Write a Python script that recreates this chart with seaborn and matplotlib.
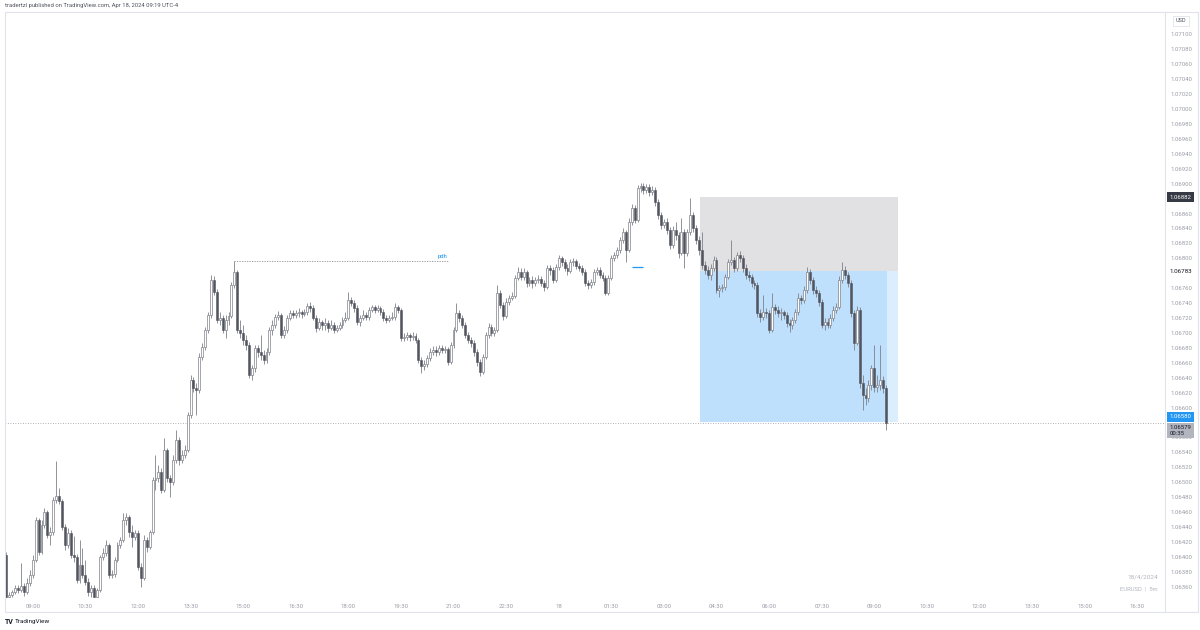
import matplotlib
matplotlib.use("Agg")
import matplotlib.pyplot as plt
import matplotlib.transforms as mtransforms
from matplotlib.lines import Line2D
from matplotlib.patches import Rectangle
import numpy as np
import pandas as pd
import seaborn as sns

# ---------------- data (EURUSD 5m) ----------------
start_time = "2024-04-17 08:15"

closes = [
    1.06346, 1.06349, 1.06353, 1.06358, 1.06356, 1.06361, 1.06353, 1.06365, 1.06376, 1.06396,
    1.06449, 1.06406, 1.06443, 1.06460, 1.06429, 1.06433, 1.06476, 1.06482, 1.06475, 1.06440,
    1.06416, 1.06432, 1.06402, 1.06400, 1.06369, 1.06389, 1.06376, 1.06366, 1.06353, 1.06358,
    1.06346, 1.06356, 1.06400, 1.06405, 1.06416, 1.06376, 1.06377, 1.06396, 1.06416, 1.06423,
    1.06449, 1.06453, 1.06433, 1.06427, 1.06432, 1.06386, 1.06372, 1.06423, 1.06413, 1.06433,
    1.06503, 1.06506, 1.06514, 1.06490, 1.06543, 1.06506, 1.06500, 1.06530, 1.06557, 1.06530,
    1.06536, 1.06543, 1.06590, 1.06637, 1.06626, 1.06624, 1.06668, 1.06681, 1.06704, 1.06724,
    1.06771, 1.06755, 1.06717, 1.06720, 1.06704, 1.06717, 1.06723, 1.06764, 1.06782, 1.06704,
    1.06700, 1.06691, 1.06684, 1.06644, 1.06653, 1.06680, 1.06674, 1.06670, 1.06664, 1.06674,
    1.06704, 1.06711, 1.06721, 1.06724, 1.06697, 1.06704, 1.06720, 1.06727, 1.06724, 1.06727,
    1.06728, 1.06725, 1.06728, 1.06736, 1.06733, 1.06720, 1.06707, 1.06715, 1.06711, 1.06713,
    1.06707, 1.06711, 1.06704, 1.06707, 1.06711, 1.06717, 1.06720, 1.06744, 1.06740, 1.06733,
    1.06715, 1.06720, 1.06724, 1.06721, 1.06731, 1.06735, 1.06731, 1.06733, 1.06728, 1.06720,
    1.06717, 1.06720, 1.06721, 1.06735, 1.06731, 1.06693, 1.06695, 1.06697, 1.06695, 1.06696,
    1.06691, 1.06664, 1.06656, 1.06658, 1.06666, 1.06674, 1.06677, 1.06674, 1.06680, 1.06677,
    1.06678, 1.06661, 1.06684, 1.06704, 1.06727, 1.06720, 1.06711, 1.06697, 1.06691, 1.06687,
    1.06674, 1.06661, 1.06648, 1.06668, 1.06697, 1.06708, 1.06700, 1.06704, 1.06754, 1.06737,
    1.06723, 1.06741, 1.06747, 1.06750, 1.06774, 1.06782, 1.06775, 1.06782, 1.06767, 1.06771,
    1.06767, 1.06771, 1.06772, 1.06767, 1.06762, 1.06787, 1.06784, 1.06771, 1.06788, 1.06800,
    1.06795, 1.06787, 1.06783, 1.06795, 1.06796, 1.06790, 1.06787, 1.06782, 1.06767, 1.06764,
    1.06768, 1.06782, 1.06784, 1.06778, 1.06774, 1.06754, 1.06774, 1.06800, 1.06804, 1.06811,
    1.06825, 1.06835, 1.06811, 1.06849, 1.06867, 1.06851, 1.06894, 1.06897, 1.06892, 1.06896,
    1.06889, 1.06892, 1.06875, 1.06858, 1.06845, 1.06849, 1.06838, 1.06818, 1.06838, 1.06831,
    1.06807, 1.06835, 1.06807, 1.06835, 1.06858, 1.06841, 1.06825, 1.06811, 1.06791, 1.06784,
    1.06778, 1.06787, 1.06798, 1.06758, 1.06760, 1.06762, 1.06775, 1.06795, 1.06798, 1.06787,
    1.06804, 1.06800, 1.06787, 1.06778, 1.06775, 1.06767, 1.06764, 1.06727, 1.06721, 1.06728,
    1.06727, 1.06704, 1.06735, 1.06731, 1.06727, 1.06728, 1.06724, 1.06713, 1.06711, 1.06717,
    1.06728, 1.06747, 1.06744, 1.06758, 1.06782, 1.06771, 1.06758, 1.06754, 1.06741, 1.06711,
    1.06715, 1.06711, 1.06720, 1.06731, 1.06735, 1.06771, 1.06784, 1.06778, 1.06767, 1.06727,
    1.06687, 1.06731, 1.06633, 1.06617, 1.06613, 1.06630, 1.06653, 1.06628, 1.06630, 1.06637,
    1.06626, 1.06579,
]

opens = [
    1.06402,
    1.06346, 1.06349, 1.06353, 1.06358, 1.06356, 1.06361, 1.06353, 1.06365, 1.06376, 1.06396,
    1.06449, 1.06406, 1.06443, 1.06460, 1.06429, 1.06433, 1.06476, 1.06482, 1.06475, 1.06440,
    1.06416, 1.06432, 1.06402, 1.06400, 1.06369, 1.06389, 1.06376, 1.06366, 1.06353, 1.06358,
    1.06346, 1.06356, 1.06400, 1.06405, 1.06416, 1.06376, 1.06377, 1.06396, 1.06416, 1.06423,
    1.06449, 1.06453, 1.06433, 1.06427, 1.06432, 1.06386, 1.06372, 1.06423, 1.06413, 1.06433,
    1.06503, 1.06506, 1.06514, 1.06490, 1.06543, 1.06506, 1.06500, 1.06530, 1.06557, 1.06530,
    1.06536, 1.06543, 1.06590, 1.06637, 1.06626, 1.06624, 1.06668, 1.06681, 1.06704, 1.06724,
    1.06771, 1.06755, 1.06717, 1.06720, 1.06704, 1.06717, 1.06723, 1.06764, 1.06782, 1.06704,
    1.06700, 1.06691, 1.06684, 1.06644, 1.06653, 1.06680, 1.06674, 1.06670, 1.06664, 1.06674,
    1.06704, 1.06711, 1.06721, 1.06724, 1.06697, 1.06704, 1.06720, 1.06727, 1.06724, 1.06727,
    1.06728, 1.06725, 1.06728, 1.06736, 1.06733, 1.06720, 1.06707, 1.06715, 1.06711, 1.06713,
    1.06707, 1.06711, 1.06704, 1.06707, 1.06711, 1.06717, 1.06720, 1.06744, 1.06740, 1.06733,
    1.06715, 1.06720, 1.06724, 1.06721, 1.06731, 1.06735, 1.06731, 1.06733, 1.06728, 1.06720,
    1.06717, 1.06720, 1.06721, 1.06735, 1.06731, 1.06693, 1.06695, 1.06697, 1.06695, 1.06696,
    1.06691, 1.06664, 1.06656, 1.06658, 1.06666, 1.06674, 1.06677, 1.06674, 1.06680, 1.06677,
    1.06678, 1.06661, 1.06684, 1.06704, 1.06727, 1.06720, 1.06711, 1.06697, 1.06691, 1.06687,
    1.06674, 1.06661, 1.06648, 1.06668, 1.06697, 1.06708, 1.06700, 1.06704, 1.06754, 1.06737,
    1.06723, 1.06741, 1.06747, 1.06750, 1.06774, 1.06782, 1.06775, 1.06782, 1.06767, 1.06771,
    1.06767, 1.06771, 1.06772, 1.06767, 1.06762, 1.06787, 1.06784, 1.06771, 1.06788, 1.06800,
    1.06795, 1.06787, 1.06783, 1.06795, 1.06796, 1.06790, 1.06787, 1.06782, 1.06767, 1.06764,
    1.06768, 1.06782, 1.06784, 1.06778, 1.06774, 1.06754, 1.06774, 1.06800, 1.06804, 1.06811,
    1.06825, 1.06835, 1.06811, 1.06849, 1.06867, 1.06851, 1.06894, 1.06897, 1.06892, 1.06896,
    1.06889, 1.06892, 1.06875, 1.06858, 1.06845, 1.06849, 1.06838, 1.06818, 1.06838, 1.06831,
    1.06807, 1.06835, 1.06807, 1.06835, 1.06858, 1.06841, 1.06825, 1.06811, 1.06791, 1.06784,
    1.06778, 1.06787, 1.06798, 1.06758, 1.06760, 1.06762, 1.06775, 1.06795, 1.06798, 1.06787,
    1.06804, 1.06800, 1.06787, 1.06778, 1.06775, 1.06767, 1.06764, 1.06727, 1.06721, 1.06728,
    1.06727, 1.06704, 1.06735, 1.06731, 1.06727, 1.06728, 1.06724, 1.06713, 1.06711, 1.06717,
    1.06728, 1.06747, 1.06744, 1.06758, 1.06782, 1.06771, 1.06758, 1.06754, 1.06741, 1.06711,
    1.06715, 1.06711, 1.06720, 1.06731, 1.06735, 1.06771, 1.06784, 1.06778, 1.06767, 1.06727,
    1.06687, 1.06731, 1.06633, 1.06617, 1.06613, 1.06630, 1.06653, 1.06628, 1.06630, 1.06637,
    1.06626,
]

highs = [
    1.06406, 1.06353, 1.06356, 1.06362, 1.06362, 1.06392, 1.06365, 1.06372, 1.06382, 1.06402,
    1.06453, 1.06452, 1.06449, 1.06465, 1.06463, 1.06440, 1.06480, 1.06528, 1.06492, 1.06478,
    1.06444, 1.06439, 1.06436, 1.06428, 1.06404, 1.06423, 1.06412, 1.06396, 1.06372, 1.06362,
    1.06362, 1.06358, 1.06402, 1.06412, 1.06423, 1.06419, 1.06382, 1.06400, 1.06420, 1.06427,
    1.06459, 1.06459, 1.06456, 1.06443, 1.06436, 1.06436, 1.06392, 1.06429, 1.06427, 1.06436,
    1.06507, 1.06536, 1.06523, 1.06519, 1.06559, 1.06546, 1.06510, 1.06536, 1.06570, 1.06561,
    1.06543, 1.06550, 1.06594, 1.06644, 1.06641, 1.06633, 1.06673, 1.06687, 1.06708, 1.06728,
    1.06778, 1.06776, 1.06759, 1.06728, 1.06724, 1.06724, 1.06728, 1.06768, 1.06796, 1.06784,
    1.06717, 1.06711, 1.06697, 1.06688, 1.06657, 1.06684, 1.06684, 1.06697, 1.06677, 1.06680,
    1.06708, 1.06717, 1.06725, 1.06729, 1.06727, 1.06709, 1.06724, 1.06731, 1.06731, 1.06731,
    1.06733, 1.06731, 1.06732, 1.06740, 1.06741, 1.06737, 1.06724, 1.06720, 1.06717, 1.06720,
    1.06717, 1.06717, 1.06715, 1.06711, 1.06715, 1.06721, 1.06728, 1.06755, 1.06748, 1.06744,
    1.06737, 1.06724, 1.06731, 1.06728, 1.06735, 1.06737, 1.06737, 1.06737, 1.06736, 1.06732,
    1.06724, 1.06724, 1.06728, 1.06740, 1.06737, 1.06733, 1.06700, 1.06701, 1.06700, 1.06701,
    1.06700, 1.06693, 1.06668, 1.06664, 1.06670, 1.06680, 1.06683, 1.06683, 1.06684, 1.06684,
    1.06683, 1.06681, 1.06688, 1.06708, 1.06740, 1.06731, 1.06724, 1.06715, 1.06701, 1.06695,
    1.06691, 1.06678, 1.06665, 1.06672, 1.06701, 1.06713, 1.06712, 1.06708, 1.06764, 1.06758,
    1.06741, 1.06747, 1.06751, 1.06755, 1.06778, 1.06788, 1.06787, 1.06787, 1.06784, 1.06775,
    1.06776, 1.06775, 1.06778, 1.06776, 1.06771, 1.06791, 1.06791, 1.06788, 1.06792, 1.06804,
    1.06803, 1.06799, 1.06792, 1.06799, 1.06800, 1.06799, 1.06794, 1.06791, 1.06786, 1.06771,
    1.06772, 1.06786, 1.06788, 1.06788, 1.06782, 1.06778, 1.06778, 1.06804, 1.06808, 1.06815,
    1.06829, 1.06841, 1.06838, 1.06854, 1.06873, 1.06871, 1.06898, 1.06901, 1.06901, 1.06900,
    1.06900, 1.06897, 1.06896, 1.06879, 1.06862, 1.06853, 1.06854, 1.06842, 1.06843, 1.06849,
    1.06835, 1.06854, 1.06839, 1.06839, 1.06881, 1.06862, 1.06845, 1.06830, 1.06835, 1.06796,
    1.06790, 1.06792, 1.06803, 1.06802, 1.06764, 1.06766, 1.06779, 1.06799, 1.06825, 1.06802,
    1.06808, 1.06810, 1.06804, 1.06792, 1.06783, 1.06779, 1.06771, 1.06768, 1.06732, 1.06751,
    1.06733, 1.06731, 1.06754, 1.06739, 1.06736, 1.06733, 1.06731, 1.06728, 1.06719, 1.06721,
    1.06732, 1.06754, 1.06751, 1.06763, 1.06788, 1.06786, 1.06775, 1.06763, 1.06758, 1.06746,
    1.06720, 1.06720, 1.06725, 1.06736, 1.06740, 1.06776, 1.06795, 1.06790, 1.06782, 1.06771,
    1.06731, 1.06736, 1.06735, 1.06644, 1.06626, 1.06637, 1.06657, 1.06684, 1.06644, 1.06684,
    1.06642, 1.06630,
]

lows = [
    1.06345, 1.06344, 1.06346, 1.06350, 1.06352, 1.06353, 1.06348, 1.06350, 1.06361, 1.06372,
    1.06393, 1.06402, 1.06404, 1.06439, 1.06425, 1.06416, 1.06429, 1.06472, 1.06471, 1.06436,
    1.06409, 1.06412, 1.06398, 1.06393, 1.06365, 1.06365, 1.06372, 1.06362, 1.06348, 1.06346,
    1.06344, 1.06342, 1.06353, 1.06396, 1.06401, 1.06372, 1.06372, 1.06373, 1.06393, 1.06412,
    1.06420, 1.06443, 1.06427, 1.06413, 1.06423, 1.06382, 1.06360, 1.06369, 1.06406, 1.06410,
    1.06431, 1.06490, 1.06500, 1.06486, 1.06487, 1.06500, 1.06480, 1.06496, 1.06526, 1.06523,
    1.06526, 1.06532, 1.06541, 1.06586, 1.06621, 1.06590, 1.06620, 1.06664, 1.06677, 1.06700,
    1.06720, 1.06751, 1.06713, 1.06711, 1.06700, 1.06693, 1.06711, 1.06720, 1.06760, 1.06700,
    1.06693, 1.06684, 1.06677, 1.06640, 1.06637, 1.06648, 1.06668, 1.06664, 1.06658, 1.06660,
    1.06670, 1.06697, 1.06707, 1.06717, 1.06693, 1.06693, 1.06700, 1.06717, 1.06720, 1.06720,
    1.06721, 1.06720, 1.06723, 1.06724, 1.06728, 1.06717, 1.06701, 1.06704, 1.06704, 1.06704,
    1.06701, 1.06704, 1.06700, 1.06701, 1.06704, 1.06707, 1.06715, 1.06717, 1.06736, 1.06728,
    1.06711, 1.06709, 1.06717, 1.06717, 1.06717, 1.06728, 1.06727, 1.06728, 1.06724, 1.06716,
    1.06713, 1.06715, 1.06717, 1.06717, 1.06727, 1.06689, 1.06689, 1.06691, 1.06689, 1.06691,
    1.06687, 1.06660, 1.06646, 1.06650, 1.06654, 1.06662, 1.06670, 1.06669, 1.06670, 1.06673,
    1.06673, 1.06657, 1.06658, 1.06680, 1.06701, 1.06715, 1.06707, 1.06693, 1.06687, 1.06681,
    1.06669, 1.06656, 1.06642, 1.06645, 1.06665, 1.06693, 1.06696, 1.06696, 1.06701, 1.06733,
    1.06717, 1.06720, 1.06737, 1.06744, 1.06747, 1.06771, 1.06771, 1.06771, 1.06762, 1.06763,
    1.06760, 1.06763, 1.06767, 1.06763, 1.06756, 1.06759, 1.06778, 1.06767, 1.06768, 1.06784,
    1.06790, 1.06783, 1.06778, 1.06780, 1.06790, 1.06786, 1.06783, 1.06778, 1.06763, 1.06759,
    1.06760, 1.06764, 1.06778, 1.06774, 1.06770, 1.06751, 1.06751, 1.06771, 1.06796, 1.06800,
    1.06807, 1.06821, 1.06795, 1.06808, 1.06845, 1.06847, 1.06849, 1.06889, 1.06886, 1.06888,
    1.06884, 1.06885, 1.06870, 1.06853, 1.06839, 1.06841, 1.06833, 1.06812, 1.06814, 1.06825,
    1.06800, 1.06804, 1.06787, 1.06803, 1.06831, 1.06835, 1.06819, 1.06804, 1.06786, 1.06779,
    1.06772, 1.06771, 1.06783, 1.06754, 1.06748, 1.06755, 1.06758, 1.06772, 1.06791, 1.06782,
    1.06783, 1.06795, 1.06782, 1.06772, 1.06770, 1.06762, 1.06759, 1.06721, 1.06715, 1.06717,
    1.06720, 1.06700, 1.06701, 1.06725, 1.06721, 1.06717, 1.06719, 1.06708, 1.06701, 1.06705,
    1.06713, 1.06724, 1.06739, 1.06740, 1.06754, 1.06766, 1.06752, 1.06748, 1.06736, 1.06707,
    1.06704, 1.06707, 1.06707, 1.06716, 1.06727, 1.06732, 1.06767, 1.06772, 1.06762, 1.06721,
    1.06677, 1.06684, 1.06626, 1.06597, 1.06603, 1.06607, 1.06624, 1.06621, 1.06621, 1.06624,
    1.06620, 1.06570,
]

time_labels = ["09:00", "10:30", "12:00", "13:30", "15:00", "16:30", "18:00", "19:30",
               "21:00", "22:30", "18", "01:30", "03:00", "04:30", "06:00", "07:30",
               "09:00", "10:30", "12:00", "13:30", "15:00", "16:30"]
first_label_time = "2024-04-17 09:00"

price_tick_labels = ["1.07100", "1.07080", "1.07060", "1.07040", "1.07020", "1.07000",
                     "1.06980", "1.06960", "1.06940", "1.06920", "1.06900", "1.06860",
                     "1.06840", "1.06820", "1.06800", "1.06760", "1.06740", "1.06720",
                     "1.06700", "1.06680", "1.06660", "1.06640", "1.06620", "1.06600",
                     "1.06560", "1.06540", "1.06520", "1.06500", "1.06480", "1.06460",
                     "1.06440", "1.06420", "1.06400", "1.06380", "1.06360"]

stop_price = 1.06882
entry_price = 1.06783
target_price = 1.06580
last_price = 1.06579
pdh_price = 1.06796
blue_mark_price = 1.06788

# ---------------- figure ----------------
sns.set_theme(style="white")
plt.rcParams["font.family"] = ["Roboto", "DejaVu Sans"]

W, H = 1200, 630
fig = plt.figure(figsize=(12, 6.3), dpi=100)
fig.patch.set_facecolor("white")
ax = fig.add_axes([5 / W, 1 - 598 / H, 1160 / W, 586 / H])
ax.set_facecolor("white")

t0 = pd.Timestamp(start_time)
step = pd.Timedelta("5min")


def tpos(t):
    return (pd.Timestamp(t) - t0) / step


n = len(closes)
assert len(opens) == n and len(highs) == n and len(lows) == n
df = pd.DataFrame({
    "time": pd.date_range(t0, periods=n, freq="5min"),
    "open": opens, "high": highs, "low": lows, "close": closes,
})
df["x"] = (df["time"] - t0) / step
df["up"] = df["close"] >= df["open"]
df["bottom"] = df[["open", "close"]].min(axis=1)
df["height"] = (df["close"] - df["open"]).abs().clip(lower=0.000009)

# position tool (short): stop zone grey, target zone blue
tool_left = tpos("2024-04-18 04:02:30")
tool_right = tpos("2024-04-18 09:40")
last_x = df["x"].iloc[-1] + 0.5
ax.add_patch(Rectangle((tool_left, entry_price), tool_right - tool_left, stop_price - entry_price,
                       facecolor="#e1e1e4", edgecolor="none", zorder=1))
ax.add_patch(Rectangle((tool_left, target_price), last_x - tool_left, entry_price - target_price,
                       facecolor="#bfe0fc", edgecolor="none", zorder=1))
ax.add_patch(Rectangle((last_x, target_price), tool_right - last_x, entry_price - target_price,
                       facecolor="#dbeefd", edgecolor="none", zorder=1))

# current price line
ax.axhline(last_price, color="#9598a1", lw=0.6, ls=(0, (1, 2)), zorder=2)

# pdh line
pdh_x0 = tpos("2024-04-17 14:45")
pdh_x1 = tpos("2024-04-17 20:50")
sns.lineplot(x=[pdh_x0, pdh_x1], y=[pdh_price, pdh_price], ax=ax, color="#8a8d96",
             lw=0.6, linestyle=(0, (1.5, 1.5)), zorder=2)
ax.text(pdh_x1 - 3.5, pdh_price + 0.00003, "pdh", fontsize=4.2, color="#2196f3",
        ha="left", va="bottom", zorder=5)
# short blue mark
ax.hlines(blue_mark_price, tpos("2024-04-18 02:05"), tpos("2024-04-18 02:25"),
          color="#2196f3", lw=0.9, zorder=5)

# candles
wick_c = "#7e818a"
down_c = "#52555f"
ax.vlines(df["x"], df["low"], df["high"], color=wick_c, lw=0.6, zorder=3)
upd = df[df["up"]]
dnd = df[~df["up"]]
ax.bar(upd["x"], upd["height"], bottom=upd["bottom"], width=0.66, color="white",
       edgecolor=wick_c, linewidth=0.5, zorder=4)
ax.bar(dnd["x"], dnd["height"], bottom=dnd["bottom"], width=0.66, color=down_c,
       edgecolor=down_c, linewidth=0.4, zorder=4)

# axes limits
ax.set_xlim(-0.5, 396.5)
ax.set_ylim(1.063448, 1.071301)

# time ticks
tick_times = pd.date_range(first_label_time, periods=len(time_labels), freq="90min")
ax.set_xticks([(t - t0) / step for t in tick_times])
ax.set_xticklabels(time_labels)
ax.tick_params(axis="x", length=0, pad=4.5, labelsize=4.3, labelcolor="#9a9da6")

# price ticks
ax.yaxis.tick_right()
ax.set_yticks([float(s) for s in price_tick_labels])
ax.set_yticklabels(price_tick_labels)
ax.tick_params(axis="y", length=0, pad=4, labelsize=4.3, labelcolor="#9a9da6")
for sp in ax.spines.values():
    sp.set_visible(False)
ax.grid(False)

# price scale labels
trans = mtransforms.blended_transform_factory(ax.transAxes, ax.transData)
lx = 1.0 + 4.5 / 1160
ax.text(lx, stop_price, "1.06882", transform=trans, fontsize=4.3, color="white",
        ha="left", va="center", clip_on=False,
        bbox=dict(boxstyle="square,pad=0.45", fc="#363a45", ec="none"))
ax.text(lx, entry_price, "1.06783", transform=trans, fontsize=4.5, color="#131722",
        ha="left", va="center", clip_on=False)
off_up = mtransforms.offset_copy(trans, fig=fig, x=0, y=4, units="points")
ax.text(lx, target_price, "1.06580", transform=off_up, fontsize=4.3, color="white",
        ha="left", va="center", clip_on=False,
        bbox=dict(boxstyle="square,pad=0.4", fc="#2196f3", ec="none"))
off_dn = mtransforms.offset_copy(trans, fig=fig, x=0, y=-5.2, units="points")
ax.text(lx, last_price, "1.06579\n00:35", transform=off_dn, fontsize=4.3, color="#131722",
        ha="left", va="center", clip_on=False, linespacing=1.05,
        bbox=dict(boxstyle="square,pad=0.4", fc="#b2b5be", ec="none"))

# frame lines (light gray)
fc = "#e0e3eb"
def fline(x0, y0, x1, y1):
    fig.add_artist(Line2D([x0 / W, x1 / W], [1 - y0 / H, 1 - y1 / H], color=fc, lw=0.8))

fline(5, 12, 1198, 12)
fline(5, 12, 5, 612)
fline(5, 612, 1198, 612)
fline(1198, 12, 1198, 612)
fline(1165, 12, 1165, 612)

# texts
fig.text(5 / W, 1 - 6 / H, "tradertzl published on TradingView.com, Apr 18, 2024 09:19 UTC-4",
         fontsize=4.2, color="#50535e", ha="left", va="center")
fig.text(1181 / W, 1 - 21 / H, "USD", fontsize=4.0, color="#50535e", ha="center", va="center",
         bbox=dict(boxstyle="square,pad=0.5", fc="white", ec=fc, lw=0.6))
fig.text(1158 / W, 1 - 577 / H, "18/4/2024", fontsize=4.6, color="#b2b5be",
         ha="right", va="center")
fig.text(1158 / W, 1 - 589 / H, "EURUSD  |  5m", fontsize=4.2, color="#b2b5be",
         ha="right", va="center")
fig.text(5 / W, 1 - 622 / H, "TV", fontsize=5, color="#131722", ha="left", va="center",
         fontweight="bold")
fig.text(15 / W, 1 - 622 / H, "TradingView", fontsize=4.6, color="#131722", ha="left",
         va="center")

fig.savefig("out.png", dpi=100, facecolor="white")
